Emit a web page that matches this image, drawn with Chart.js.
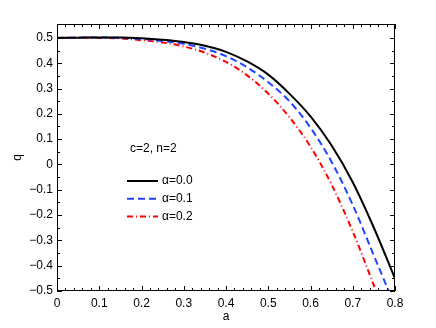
<!DOCTYPE html>
<html>
<head>
<meta charset="utf-8">
<script src="https://cdn.jsdelivr.net/npm/chart.js@4/dist/chart.umd.min.js"></script>
<style>
  html, body { margin: 0; padding: 0; background: #fff; }
  #wrap { width: 436px; height: 328px; }
</style>
</head>
<body>
<div id="wrap"><canvas id="chart" width="436" height="328"></canvas></div>
<script>
// values
const aAlpha0 = [0, 0.05, 0.1, 0.15, 0.2, 0.25, 0.3, 0.35, 0.4, 0.45, 0.5, 0.55, 0.6, 0.65, 0.7, 0.75, 0.8];
const qAlpha0 = [0.5, 0.501, 0.502, 0.502, 0.499, 0.493, 0.484, 0.469, 0.445, 0.407, 0.355, 0.28, 0.19, 0.075, -0.07, -0.25, -0.451];

const aAlpha1 = [0, 0.05, 0.1, 0.15, 0.2, 0.25, 0.3, 0.35, 0.4, 0.45, 0.5, 0.55, 0.6, 0.65, 0.7, 0.75, 0.785];
const qAlpha1 = [0.5, 0.501, 0.502, 0.5, 0.496, 0.488, 0.477, 0.457, 0.428, 0.384, 0.325, 0.25, 0.145, 0.01, -0.16, -0.36, -0.5];

const aAlpha2 = [0, 0.05, 0.1, 0.15, 0.2, 0.25, 0.3, 0.35, 0.4, 0.45, 0.5, 0.55, 0.6, 0.65, 0.7, 0.75, 0.755];
const qAlpha2 = [0.5, 0.501, 0.5, 0.498, 0.491, 0.482, 0.466, 0.442, 0.405, 0.352, 0.28, 0.187, 0.07, -0.08, -0.265, -0.478, -0.5];

const xTicks = [0, 0.1, 0.2, 0.3, 0.4, 0.5, 0.6, 0.7, 0.8];
const yTicks = [-0.5, -0.4, -0.3, -0.2, -0.1, 0, 0.1, 0.2, 0.3, 0.4, 0.5];

const seriesLabels = ["\u03B1=0.0", "\u03B1=0.1", "\u03B1=0.2"];
const noteText = "c=2, n=2";

const FONT = "'Liberation Sans', Arial, Helvetica, sans-serif";

function toPoints(xs, ys) {
  return xs.map((x, i) => ({ x: x, y: ys[i] }));
}

function fmt(v) {
  const s = v.toFixed(1);
  if (s === "0.0" || s === "-0.0") return "0";
  return s.replace("-", "\u2212");
}

// frame with inward ticks on all four sides, legend and note
const frameTicks = {
  id: "frameTicks",
  afterDatasetsDraw(chart) {
    const { ctx, chartArea, scales } = chart;
    const { left, right, top, bottom } = chartArea;
    const x = scales.x;
    const y = scales.y;
    ctx.save();
    ctx.strokeStyle = "#000";
    ctx.lineWidth = 1;
    ctx.setLineDash([]);
    ctx.strokeRect(left + 0.5, top + 0.5, right - left - 1, bottom - top - 1);

    ctx.beginPath();
    for (let i = 0; i <= 40; i++) {
      const px = Math.round(x.getPixelForValue(i * 0.02)) + 0.5;
      const len = i % 5 === 0 ? 5 : 3;
      ctx.moveTo(px, bottom);
      ctx.lineTo(px, bottom - len);
      ctx.moveTo(px, top);
      ctx.lineTo(px, top + len);
    }
    for (let i = 0; i <= 21; i++) {
      const v = -0.5 + i * 0.05;
      const py = Math.round(y.getPixelForValue(v)) + 0.5;
      if (py < top + 2) continue;
      const len = i % 2 === 0 ? 5 : 3;
      ctx.moveTo(left, py);
      ctx.lineTo(left + len, py);
      ctx.moveTo(right, py);
      ctx.lineTo(right - len, py);
    }
    ctx.stroke();

    // note + legend
    ctx.fillStyle = "#000";
    ctx.font = "12px " + FONT;
    ctx.textBaseline = "middle";
    ctx.textAlign = "left";
    ctx.fillText(noteText, 130, 149);

    chart.data.datasets.forEach((ds, i) => {
      const ly = 181 + i * 17.8;
      ctx.beginPath();
      ctx.strokeStyle = ds.borderColor;
      ctx.lineWidth = ds.borderWidth;
      ctx.setLineDash(ds.borderDash || []);
      ctx.moveTo(127, ly);
      ctx.lineTo(158, ly);
      ctx.stroke();
      ctx.setLineDash([]);
      ctx.fillStyle = "#000";
      ctx.fillText(ds.label, 162, ly);
    });
    ctx.restore();
  },
};

const ctx = document.getElementById("chart").getContext("2d");
new Chart(ctx, {
  type: "line",
  data: {
    datasets: [
      {
        label: seriesLabels[0],
        data: toPoints(aAlpha0, qAlpha0),
        borderColor: "#000000",
        borderWidth: 2,
        pointRadius: 0,
        cubicInterpolationMode: "monotone",
      },
      {
        label: seriesLabels[1],
        data: toPoints(aAlpha1, qAlpha1),
        borderColor: "#2244ff",
        borderWidth: 2,
        borderDash: [7, 4],
        pointRadius: 0,
        cubicInterpolationMode: "monotone",
      },
      {
        label: seriesLabels[2],
        data: toPoints(aAlpha2, qAlpha2),
        borderColor: "#ff0000",
        borderWidth: 2,
        borderDash: [6, 3, 1, 3],
        pointRadius: 0,
        cubicInterpolationMode: "monotone",
      },
    ],
  },
  options: {
    responsive: false,
    animation: false,
    devicePixelRatio: 1,
    layout: { padding: { left: 0, top: 24, right: 41, bottom: 0 } },
    plugins: {
      legend: { display: false },
      tooltip: { enabled: false },
    },
    scales: {
      x: {
        type: "linear",
        min: 0,
        max: 0.8,
        grid: { display: false, drawTicks: false },
        border: { display: false },
        afterBuildTicks: (s) => {
          s.ticks = xTicks.map((v) => ({ value: v }));
        },
        ticks: {
          padding: 5,
          maxRotation: 0,
          autoSkip: false,
          color: "#000",
          font: { family: FONT, size: 12 },
          callback: (v) => fmt(v),
        },
        title: {
          display: true,
          text: "a",
          color: "#000",
          font: { family: FONT, size: 12 },
          padding: { top: 0, bottom: 4 },
        },
        afterFit: (s) => { s.height = 37; },
      },
      y: {
        min: -0.5,
        max: 0.555,
        grid: { display: false, drawTicks: false },
        border: { display: false },
        afterBuildTicks: (s) => {
          s.ticks = yTicks.map((v) => ({ value: v }));
        },
        ticks: {
          padding: 4,
          autoSkip: false,
          color: "#000",
          font: { family: FONT, size: 12 },
          callback: (v) => fmt(v),
        },
        title: {
          display: true,
          text: "q",
          color: "#000",
          font: { family: FONT, size: 12 },
          padding: { top: 10, bottom: 0 },
        },
        afterFit: (s) => { s.width = 57; },
      },
    },
  },
  plugins: [frameTicks],
});
</script>
</body>
</html>
